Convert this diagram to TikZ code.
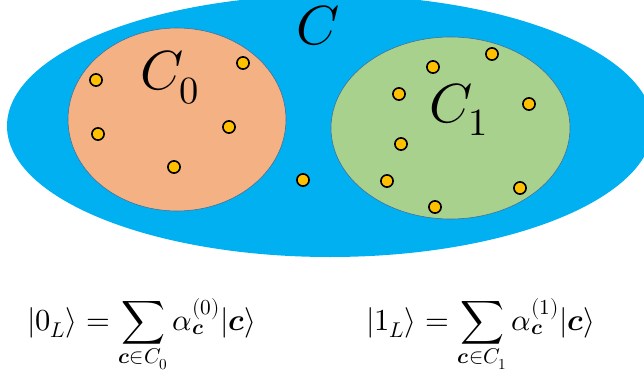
\documentclass[tikz,border=0pt]{standalone}
\usepackage{amsmath}
\usepackage{unicode-math}
\definecolor{bigblue}{HTML}{00B0F0}
\definecolor{setorange}{HTML}{F4B183}
\definecolor{setgreen}{HTML}{A9D18E}
\definecolor{rimcol}{HTML}{41719C}
\definecolor{dotfill}{HTML}{FFC000}
\begin{document}
\begin{tikzpicture}[x=1pt,y=-1pt,
  setell/.style={draw=rimcol,line width=0.6pt},
  codeword/.style={circle,draw=black,fill=dotfill,line width=1.6pt,minimum size=12.2pt,inner sep=0pt},
  biglabel/.style={anchor=base,inner sep=0pt,font=\fontsize{55}{60}\selectfont},
  eqlabel/.style={anchor=base west,inner sep=0pt,font=\fontsize{30.5}{34}\selectfont}]
\useasboundingbox (0,0) rectangle (644,377);
\clip (0,0) rectangle (644,377);
\fill[bigblue] (330,126) ellipse[x radius=323,y radius=131];
\draw[setell,fill=setorange] (177,119.5) ellipse[x radius=109,y radius=91.5];
\draw[setell,fill=setgreen] (450.5,128) ellipse[x radius=119.5,y radius=91];
\node[biglabel] (lC) at (318,45) {$C$};
\node[biglabel] (lC0) at (170,90) {$C_0$};
\node[biglabel] (lC1) at (459,122) {$C_1$};
% codewords in C0
\node[codeword] (a1) at (96,80) {};
\node[codeword] (a2) at (243,63) {};
\node[codeword] (a3) at (98,134) {};
\node[codeword] (a4) at (229,127) {};
\node[codeword] (a5) at (174,167) {};
% codeword outside
\node[codeword] (m1) at (303,180) {};
% codewords in C1
\node[codeword] (b1) at (433,67) {};
\node[codeword] (b2) at (492,54) {};
\node[codeword] (b3) at (399,94) {};
\node[codeword] (b4) at (529,104) {};
\node[codeword] (b5) at (401,144) {};
\node[codeword] (b6) at (387,181) {};
\node[codeword] (b7) at (520,188) {};
\node[codeword] (b8) at (435,207) {};
% equations
\node[eqlabel] (e0) at (27,330) {$\displaystyle |0_L\rangle=\sum_{\symbfit{c}\in C_0}\alpha_{\symbfit{c}}^{(0)}|\symbfit{c}\rangle$};
\node[eqlabel] (e1) at (366,330) {$\displaystyle |1_L\rangle=\sum_{\symbfit{c}\in C_1}\alpha_{\symbfit{c}}^{(1)}|\symbfit{c}\rangle$};
\end{tikzpicture}
\end{document}
